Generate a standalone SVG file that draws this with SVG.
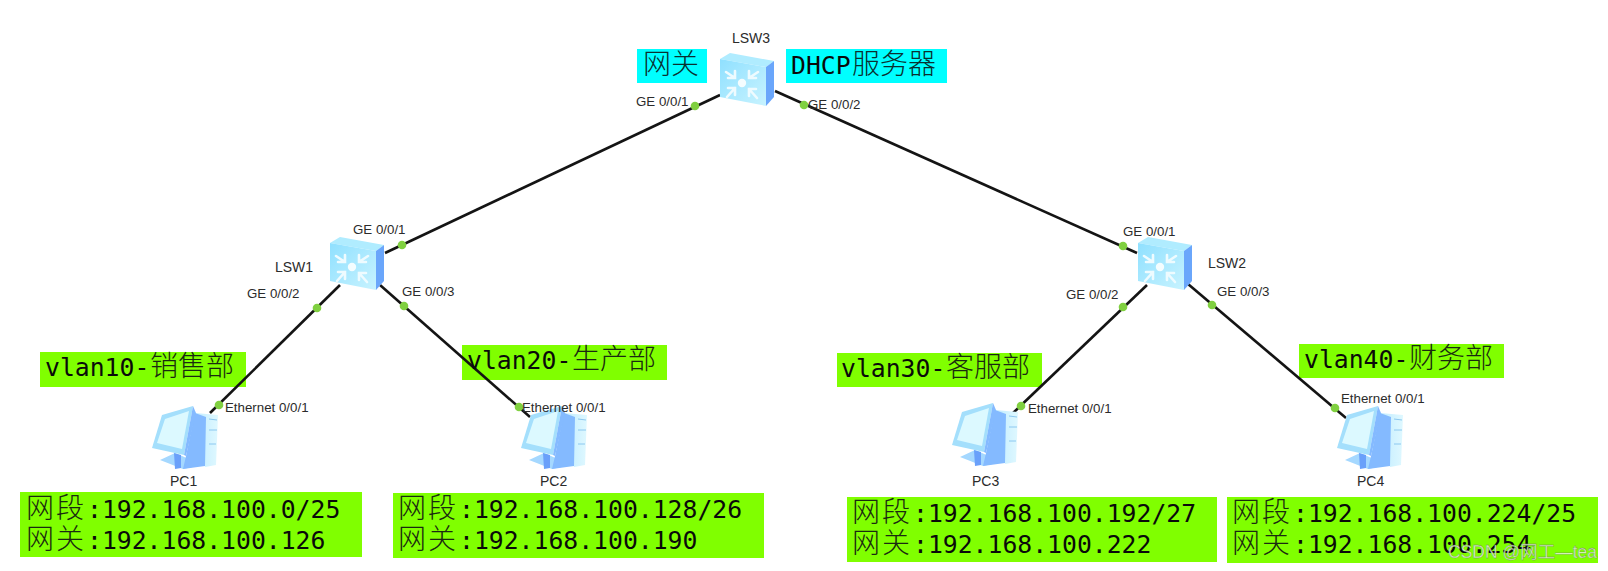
<svg xmlns="http://www.w3.org/2000/svg" width="1608" height="571" viewBox="0 0 1608 571">
<style>
text{font-family:"Liberation Sans",Arial,sans-serif;font-size:13.3px;fill:#2b2b2b}
.nm{font-size:14px}
.cn{font-family:"DejaVu Sans Mono","Noto Sans CJK SC",monospace;font-size:24.75px;fill:#0a0a0a}
.cn .h{font-family:"Noto Sans CJK SC",sans-serif;font-size:28px;font-weight:300;fill:#1a2a10}
.dhcp .h{fill:#0a3030}
.g{fill:#80ff00}
.c{fill:#00ffff}
.link{stroke:#141414;stroke-width:2.6;fill:none}
.dot{fill:#80d040}
.arr{stroke:#eefbff;stroke-width:2.6;fill:none;stroke-linecap:round}
</style>
<defs>
<linearGradient id="swf" x1="0" y1="0" x2="1" y2="1"><stop offset="0" stop-color="#8fe0ff"/><stop offset="1" stop-color="#c8f3ff"/></linearGradient>
<linearGradient id="pct" x1="0" y1="0" x2="1" y2="0"><stop offset="0" stop-color="#c0ecff"/><stop offset="1" stop-color="#dff8ff"/></linearGradient>
<symbol id="sw" width="56" height="55" viewBox="0 0 56 55" overflow="visible">
<path d="M0 6L10 0L54 8L46 14Z" fill="#b0ecff"/>
<path d="M0 6L46 14V53L0 44Z" fill="url(#swf)"/>
<path d="M46 14L54 8V44L46 53Z" fill="#6aa6fb"/>
<circle cx="22" cy="30" r="4.2" fill="#f4fdff"/>
<path class="arr" d="M6 19L15 25M15 18V25H8"/>
<path class="arr" d="M38 19L29 25M29 18V25H36"/>
<path class="arr" d="M7 44L15 35M8 35H15V42"/>
<path class="arr" d="M37 45L29 36M36 36H29V43"/>
</symbol>
<symbol id="pc" width="68" height="66" viewBox="0 0 68 66" overflow="visible">
<path d="M8 54L23 47L30 50L50 59L31 63Z" fill="#a5d8ff"/>
<path d="M22 47L29 49V62L23 63Z" fill="#6aa0fa"/>
<path d="M43 7L66 9L64 59L53 61Z" fill="url(#pct)"/>
<path d="M43 7L54 11L53 60L31 63L34 50Z" fill="#84baff"/>
<path d="M57 13L65 14M57 24L65 24M57 38L64 38" stroke="#8cc8f0" stroke-width="1"/>
<path d="M0 42L10 9L41 0L32 49Z" fill="#a4dffc"/>
<path d="M5 37L13 13L37 5L30 43Z" fill="#dcf9ff"/>
<path d="M41 0L44 7L34 50L32 49Z" fill="#84baff"/>
</symbol>
</defs>
<rect width="1608" height="571" fill="#fff"/>

<g id="annotations-back">
<rect class="g" x="40" y="352" width="206" height="35"/>
<rect class="g" x="462" y="345" width="205" height="35"/>
<rect class="g" x="837" y="353" width="205" height="34"/>
<rect class="g" x="1299" y="344" width="205" height="34"/>
</g>

<g id="connectors">
<path class="link" d="M385 253L720 95"/>
<path class="link" d="M775 91L1137 253"/>
<path class="link" d="M340 285L210 413"/>
<path class="link" d="M380 285L530 417"/>
<path class="link" d="M1147 285L1013 413"/>
<path class="link" d="M1188 284L1346 418"/>
<circle class="dot" cx="695" cy="106" r="4.3"/>
<circle class="dot" cx="804" cy="105" r="4.3"/>
<circle class="dot" cx="402" cy="245" r="4.3"/>
<circle class="dot" cx="1123" cy="246" r="4.3"/>
<circle class="dot" cx="317" cy="308" r="4.3"/>
<circle class="dot" cx="404" cy="306" r="4.3"/>
<circle class="dot" cx="1123" cy="307" r="4.3"/>
<circle class="dot" cx="1212" cy="305" r="4.3"/>
<circle class="dot" cx="219" cy="405" r="4.3"/>
<circle class="dot" cx="519" cy="407" r="4.3"/>
<circle class="dot" cx="1021" cy="406" r="4.3"/>
<circle class="dot" cx="1335" cy="408" r="4.3"/>
</g>

<g id="LSW3"><use href="#sw" x="720" y="53"/><text class="nm" x="732" y="43">LSW3</text>
<text x="636" y="106">GE 0/0/1</text><text x="808" y="109">GE 0/0/2</text></g>
<g id="LSW1"><use href="#sw" x="330" y="237"/><text class="nm" x="275" y="272">LSW1</text>
<text x="353" y="234">GE 0/0/1</text><text x="247" y="298">GE 0/0/2</text><text x="402" y="296">GE 0/0/3</text></g>
<g id="LSW2"><use href="#sw" x="1138" y="237"/><text class="nm" x="1208" y="268">LSW2</text>
<text x="1123" y="236">GE 0/0/1</text><text x="1066" y="299">GE 0/0/2</text><text x="1217" y="296">GE 0/0/3</text></g>
<g id="PC1"><use href="#pc" x="152" y="406"/><text x="225" y="412">Ethernet 0/0/1</text><text class="nm" x="170" y="486">PC1</text></g>
<g id="PC2"><use href="#pc" x="521" y="406"/><text x="522" y="412">Ethernet 0/0/1</text><text class="nm" x="540" y="486">PC2</text></g>
<g id="PC3"><use href="#pc" x="952" y="403"/><text x="1028" y="413">Ethernet 0/0/1</text><text class="nm" x="972" y="486">PC3</text></g>
<g id="PC4"><use href="#pc" x="1337" y="406"/><text x="1341" y="403">Ethernet 0/0/1</text><text class="nm" x="1357" y="486">PC4</text></g>

<g id="gateway-note"><rect class="c" x="637" y="49" width="70" height="34"/>
<text class="cn dhcp" x="643" y="74"><tspan class="h">网关</tspan></text></g>
<g id="dhcp-note"><rect class="c" x="786" y="49" width="161" height="34"/>
<text class="cn dhcp" x="791" y="74">DHCP<tspan class="h" x="852">服务器</tspan></text></g>

<g id="vlan10"><text class="cn" x="45" y="376">vlan10-<tspan class="h" x="150">销售部</tspan></text></g>
<g id="vlan20"><text class="cn" x="467" y="369">vlan20-<tspan class="h" x="572">生产部</tspan></text></g>
<g id="vlan30"><text class="cn" x="841" y="377">vlan30-<tspan class="h" x="946">客服部</tspan></text></g>
<g id="vlan40"><text class="cn" x="1304" y="368">vlan40-<tspan class="h" x="1409">财务部</tspan></text></g>

<g id="net1"><rect class="g" x="20" y="492" width="342" height="65"/>
<text class="cn" y="518"><tspan class="h" x="26" letter-spacing="2">网段</tspan><tspan x="87">:192.168.100.0/25</tspan></text>
<text class="cn" y="549"><tspan class="h" x="26" letter-spacing="2">网关</tspan><tspan x="87">:192.168.100.126</tspan></text></g>
<g id="net2"><rect class="g" x="393" y="493" width="371" height="65"/>
<text class="cn" y="518"><tspan class="h" x="398" letter-spacing="2">网段</tspan><tspan x="459">:192.168.100.128/26</tspan></text>
<text class="cn" y="549"><tspan class="h" x="398" letter-spacing="2">网关</tspan><tspan x="459">:192.168.100.190</tspan></text></g>
<g id="net3"><rect class="g" x="847" y="497" width="370" height="65"/>
<text class="cn" y="522"><tspan class="h" x="852" letter-spacing="2">网段</tspan><tspan x="913">:192.168.100.192/27</tspan></text>
<text class="cn" y="553"><tspan class="h" x="852" letter-spacing="2">网关</tspan><tspan x="913">:192.168.100.222</tspan></text></g>
<g id="net4"><rect class="g" x="1227" y="497" width="371" height="66"/>
<text class="cn" y="522"><tspan class="h" x="1232" letter-spacing="2">网段</tspan><tspan x="1293">:192.168.100.224/25</tspan></text>
<text class="cn" y="553"><tspan class="h" x="1232" letter-spacing="2">网关</tspan><tspan x="1293">:192.168.100.254</tspan></text></g>

<text id="watermark" x="1448" y="558" style="font-family:'Liberation Sans','Noto Sans CJK SC',sans-serif;font-size:17.5px;fill:#dfeed6;fill-opacity:.9;stroke:#6f7a66;stroke-width:.3">CSDN @网工—tea</text>
</svg>
